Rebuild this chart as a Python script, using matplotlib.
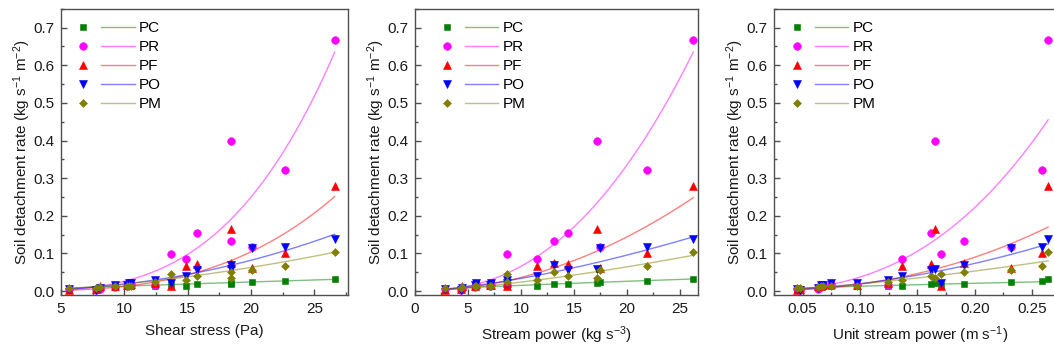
import numpy as np
import matplotlib
matplotlib.use('Agg')
import matplotlib.pyplot as plt
from matplotlib.legend_handler import HandlerTuple
from matplotlib.ticker import MultipleLocator, FormatStrFormatter

plt.rcParams['font.family'] = ['Liberation Sans', 'DejaVu Sans']
plt.rcParams['mathtext.fontset'] = 'custom'
plt.rcParams['mathtext.rm'] = 'Liberation Sans'
plt.rcParams['mathtext.it'] = 'Liberation Sans:italic'

# ---- data (16 runs, same detachment rates in the three panels) ----
series = ['PC', 'PR', 'PF', 'PO', 'PM']

shear_stress = [5.66, 7.8, 8.05, 9.3, 10.2, 10.5, 12.4, 10.4,
                13.7, 14.9, 15.7, 18.45, 18.45, 20.1, 22.65, 26.6]
stream_power = [2.8, 4.3, 4.4, 5.7, 7.1, 5.8, 8.7, 7.2,
                8.7, 11.5, 14.4, 17.2, 13.1, 17.45, 21.85, 26.25]
unit_stream_power = [0.045, 0.048, 0.063, 0.066, 0.068, 0.075, 0.124, 0.097,
                     0.171, 0.137, 0.162, 0.165, 0.191, 0.232, 0.259, 0.264]

dr_pc = [0.005, 0.006, 0.008, 0.010, 0.012, 0.012, 0.013, 0.012,
         0.015, 0.012, 0.018, 0.020, 0.018, 0.023, 0.026, 0.032]
dr_pr = [0.005, 0.004, 0.006, 0.010, 0.014, 0.018, 0.015, 0.016,
         0.098, 0.086, 0.155, 0.400, 0.133, 0.116, 0.321, 0.668]
dr_pf = [0.004, 0.006, 0.012, 0.013, 0.017, 0.018, 0.020, 0.017,
         0.013, 0.067, 0.073, 0.164, 0.074, 0.060, 0.101, 0.280]
dr_po = [0.006, 0.004, 0.008, 0.015, 0.016, 0.020, 0.030, 0.020,
         0.022, 0.041, 0.056, 0.058, 0.068, 0.114, 0.118, 0.137]
dr_pm = [0.008, 0.008, 0.010, 0.012, 0.012, 0.014, 0.025, 0.013,
         0.045, 0.029, 0.040, 0.035, 0.051, 0.055, 0.066, 0.104]

# power-law fits y = y_end * (x / x_max) ** b
fit_end_shear = [0.031, 0.635, 0.251, 0.151, 0.103]
fit_exp_shear = [0.89, 3.27, 3.08, 2.15, 1.74]
fit_end_stream = [0.032, 0.635, 0.248, 0.144, 0.095]
fit_exp_stream = [0.78, 2.35, 2.0, 1.51, 1.44]
fit_end_unit = [0.025, 0.455, 0.170, 0.125, 0.080]
fit_exp_unit = [0.70, 2.585, 2.3, 1.92, 1.48]

colors = ['#008000', '#ff00ff', '#ff0000', '#0000ff', '#808000']
markers = ['s', 'o', '^', 'v', 'D']
msizes = [4.6, 5.5, 6.0, 6.0, 4.0]

dr_all = [dr_pc, dr_pr, dr_pf, dr_po, dr_pm]

panels = [
    dict(x=shear_stress, ends=fit_end_shear, exps=fit_exp_shear,
         xlabel='Shear stress (Pa)', xlim=(5, 27.65), major=5, minor=2.5, fmt='%d',
         pos=[61, 287], leg_x=0.0174),
    dict(x=stream_power, ends=fit_end_stream, exps=fit_exp_stream,
         xlabel='Stream power (kg s$^{\\mathrm{-3}}$)', xlim=(0, 26.7), major=5, minor=2.5, fmt='%d',
         pos=[415, 283], leg_x=0.052),
    dict(x=unit_stream_power, ends=fit_end_unit, exps=fit_exp_unit,
         xlabel='Unit stream power (m s$^{\\mathrm{-1}}$)', xlim=(0.025, 0.28), major=0.05, minor=0.025,
         fmt='%.2f', pos=[774, 292.5], leg_x=0.0195),
]

W, H = 1054, 354
fig = plt.figure(figsize=(W / 100, H / 100), dpi=100)

spine_c = '#505050'
for p in panels:
    ax = fig.add_axes([p['pos'][0] / W, (H - 295) / H, p['pos'][1] / W, 286.5 / H])
    x = np.array(p['x'])
    xs = np.linspace(x.min(), x.max(), 200)
    handles = []
    for i, name in enumerate(series):
        ln, = ax.plot(xs, p['ends'][i] * (xs / x.max()) ** p['exps'][i],
                      color=colors[i], lw=1.0, alpha=0.5, zorder=2)
        pts, = ax.plot(x, dr_all[i], ls='none', marker=markers[i], ms=msizes[i],
                       color=colors[i], mec=colors[i], mew=0.4, zorder=3)
        handles.append((pts, ln))

    ax.set_xlim(*p['xlim'])
    ax.set_ylim(-0.0106, 0.751)
    ax.xaxis.set_major_locator(MultipleLocator(p['major']))
    ax.xaxis.set_minor_locator(MultipleLocator(p['minor']))
    ax.xaxis.set_major_formatter(FormatStrFormatter(p['fmt']))
    ax.yaxis.set_major_locator(MultipleLocator(0.1))
    ax.yaxis.set_minor_locator(MultipleLocator(0.05))
    ax.yaxis.set_major_formatter(FormatStrFormatter('%.1f'))
    ax.tick_params(which='both', direction='in', colors=spine_c, labelcolor='#1a1a1a',
                   labelsize=11, width=1.0)
    ax.tick_params(which='major', length=4.5, pad=5)
    ax.tick_params(which='minor', length=2.5)
    for s in ax.spines.values():
        s.set_color(spine_c)
        s.set_linewidth(1.0)

    ax.set_xlabel(p['xlabel'], fontsize=11, color='#1a1a1a', labelpad=6)
    ax.set_ylabel('Soil detachment rate (kg s$^{\\mathrm{-1}}$ m$^{\\mathrm{-2}}$)',
                  fontsize=11, color='#1a1a1a', labelpad=0)

    ax.legend(handles, series, loc='upper left', bbox_to_anchor=(p['leg_x'], 0.956),
              frameon=False, fontsize=11, handlelength=4.5, handletextpad=0.25,
              labelspacing=0.33, borderpad=0, borderaxespad=0,
              handler_map={tuple: HandlerTuple(ndivide=None, pad=0.07)})

fig.savefig('out.png', dpi=100)
